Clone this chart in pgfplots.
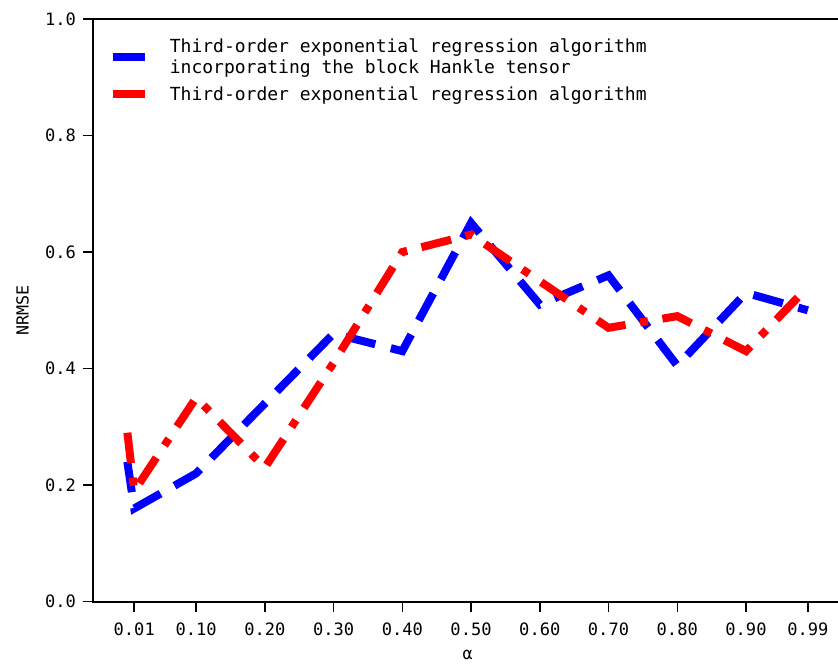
\documentclass[border=0pt]{standalone}
\usepackage{fontspec}
\setmainfont{DejaVu Sans Mono}
\usepackage{pgfplots}
\pgfplotsset{compat=1.18}
\begin{document}
\begin{tikzpicture}
\begin{axis}[
  name=ax,
  scale only axis,
  width=561.4pt, height=437pt,
  xmin=-0.0495, xmax=1.0395,
  ymin=0, ymax=1,
  xtick={0.01,0.1,0.2,0.3,0.4,0.5,0.6,0.7,0.8,0.9,0.99},
  xticklabels={0.01,0.10,0.20,0.30,0.40,0.50,0.60,0.70,0.80,0.90,0.99},
  ytick={0,0.2,0.4,0.6,0.8,1.0},
  /pgf/number format/assume math mode=true,
  tick align=outside,
  tick pos=left,
  major tick length=7.5pt,
  every tick/.style={black, line width=1.1pt},
  axis line style={black, line width=1.5pt},
  ticklabel style={font=\fontsize{12.8}{15}\selectfont},
  xticklabel style={yshift=-5pt},
  yticklabel style={xshift=-2pt, /pgf/number format/.cd, fixed, fixed zerofill, precision=1},
  label style={font=\fontsize{12.5}{15}\selectfont},
  xlabel={α},
  ylabel={NRMSE},
  xlabel style={at={(axis description cs:0.5,-0.0915)}, anchor=center},
  ylabel style={at={(axis description cs:-0.0944,0.5)}, anchor=center},
  legend style={draw=none, fill=none, inner sep=0pt,
    at={(axis description cs:0.0205,0.9703)}, anchor=north west,
    font=\fontsize{13.5}{15.5}\selectfont,
    cells={anchor=west, align=left}, row sep=4pt, column sep=14pt},
  legend image code/.code={\draw[#1, solid] (0pt,0pt) -- (23.7pt,0pt);},
]
\addplot[blue, line width=6pt, dash pattern=on 23pt off 12pt] coordinates {
 (0,0.24) (0.01,0.16) (0.1,0.22) (0.2,0.34) (0.3,0.46) (0.4,0.43)
 (0.5,0.65) (0.6,0.51) (0.7,0.56) (0.8,0.405) (0.9,0.53) (0.99,0.50)};
\addlegendentry{Third-order exponential regression algorithm\\incorporating the block Hankle tensor}
\addplot[red, line width=6pt, dash pattern=on 23pt off 11pt on 6pt off 11pt] coordinates {
 (0,0.29) (0.01,0.19) (0.1,0.35) (0.2,0.23) (0.3,0.41) (0.4,0.60)
 (0.5,0.63) (0.6,0.55) (0.7,0.47) (0.8,0.49) (0.9,0.43) (0.99,0.54)};
\addlegendentry{Third-order exponential regression algorithm}
\end{axis}
\pgfresetboundingbox
\path[use as bounding box] ([xshift=-70pt,yshift=-48.2pt]ax.south west) rectangle ([xshift=558.5pt,yshift=451.25pt]ax.south west);
\end{tikzpicture}
\end{document}
